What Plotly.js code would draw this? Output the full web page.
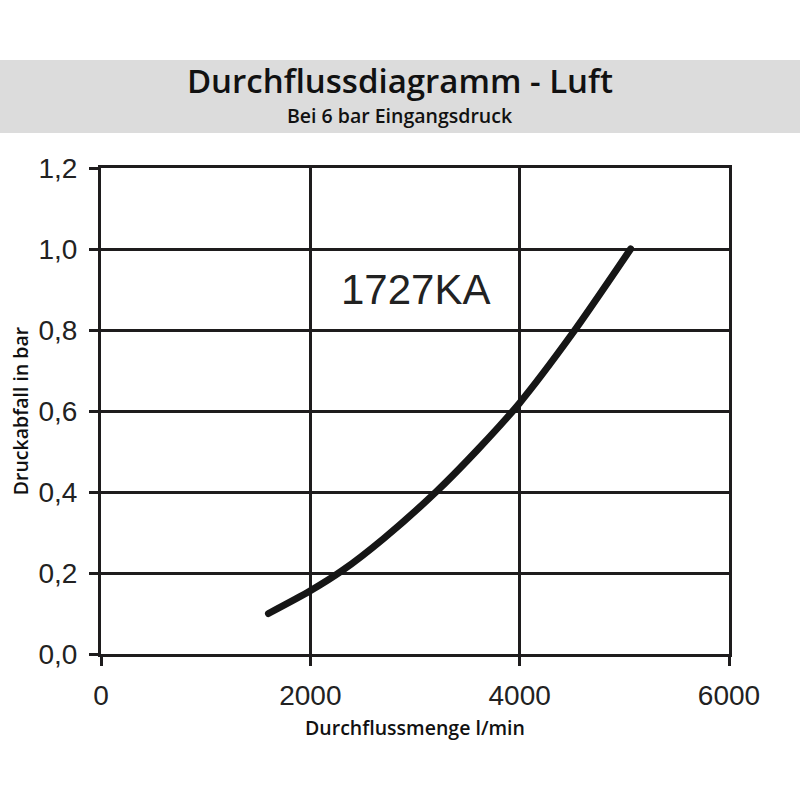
<!DOCTYPE html>
<html>
<head>
<meta charset="utf-8">
<script src="https://cdn.plot.ly/plotly-3.0.1.min.js"></script>
<style>
  html, body { margin: 0; padding: 0; background: #fff; }
  #chart { width: 800px; height: 800px; }
  .js-line { stroke-linecap: round; }
</style>
</head>
<body>
<div id="chart"></div>
<script>
// flow vs pressure drop
var flow = [1600, 2000, 2300, 2700, 3200, 3600, 4000, 4500, 5060];
var drop = [0.10, 0.156, 0.205, 0.285, 0.40, 0.505, 0.62, 0.79, 1.00];

var xTicks = [0, 2000, 4000, 6000];
var yTicks = [0, 0.2, 0.4, 0.6, 0.8, 1.0, 1.2];

var chartTitle = 'Durchflussdiagramm - Luft';
var chartSubtitle = 'Bei 6 bar Eingangsdruck';
var curveLabel = '1727KA';

var ink = '#1e1c1d';

// plot box in px: left 101, right 729, top 168, bottom 654
var plotW = 628, plotH = 486;

var layout = {
  width: 800,
  height: 800,
  margin: {l: 101, r: 71, t: 168, b: 146},
  paper_bgcolor: '#fff',
  plot_bgcolor: '#fff',
  showlegend: false,
  separators: ',.',
  title: {
    text: chartTitle,
    font: {family: 'Open Sans', size: 33, color: '#111', weight: 600},
    x: 0.5, xanchor: 'center',
    y: 1 - 81 / 800, yanchor: 'middle', yref: 'container'
  },
  xaxis: {
    range: [0, 6000],
    tickvals: xTicks,
    tickformat: 'd',
    ticks: 'outside', ticklen: 9, tickwidth: 3, tickcolor: ink,
    ticklabelstandoff: 5,
    tickfont: {family: 'Liberation Sans', size: 28, color: '#222'},
    showgrid: true, gridcolor: ink, gridwidth: 3,
    showline: true, linecolor: ink, linewidth: 3, mirror: true,
    zeroline: false,
    fixedrange: true,
    title: {
      text: 'Durchflussmenge l/min',
      font: {family: 'Open Sans', size: 19.5, color: '#111', weight: 600},
      standoff: 12
    }
  },
  yaxis: {
    range: [0, 1.2],
    tickvals: yTicks,
    tickformat: '.1f',
    ticks: 'outside', ticklen: 9, tickwidth: 3, tickcolor: ink,
    ticklabelstandoff: 6,
    tickfont: {family: 'Liberation Sans', size: 28, color: '#222'},
    showgrid: true, gridcolor: ink, gridwidth: 3,
    showline: true, linecolor: ink, linewidth: 3, mirror: true,
    zeroline: false,
    fixedrange: true,
    title: {
      text: 'Druckabfall in bar',
      font: {family: 'Open Sans', size: 19.5, color: '#111', weight: 600},
      standoff: 5
    }
  },
  shapes: [{
    type: 'rect', layer: 'below',
    xref: 'paper', yref: 'paper',
    x0: -101 / plotW, x1: 1 + 71 / plotW,
    y0: (654 - 133) / plotH, y1: (654 - 60) / plotH,
    fillcolor: '#dcdcdc', line: {width: 0}
  }],
  annotations: [
    {
      xref: 'paper', yref: 'paper',
      x: (400 - 101) / plotW, y: (654 - 115) / plotH,
      xanchor: 'center', yanchor: 'middle',
      text: chartSubtitle, showarrow: false,
      font: {family: 'Open Sans', size: 19.5, color: '#111', weight: 600}
    },
    {
      xref: 'x', yref: 'y',
      x: 3000, y: 0.9,
      xanchor: 'center', yanchor: 'middle',
      text: curveLabel, showarrow: false,
      font: {family: 'Liberation Sans', size: 42, color: '#222'}
    }
  ]
};

Plotly.newPlot('chart', [{
  x: flow,
  y: drop,
  type: 'scatter',
  mode: 'lines',
  line: {color: '#161616', width: 7, shape: 'spline', smoothing: 0.8},
  hoverinfo: 'x+y'
}], layout, {displayModeBar: false, staticPlot: true});
</script>
</body>
</html>
